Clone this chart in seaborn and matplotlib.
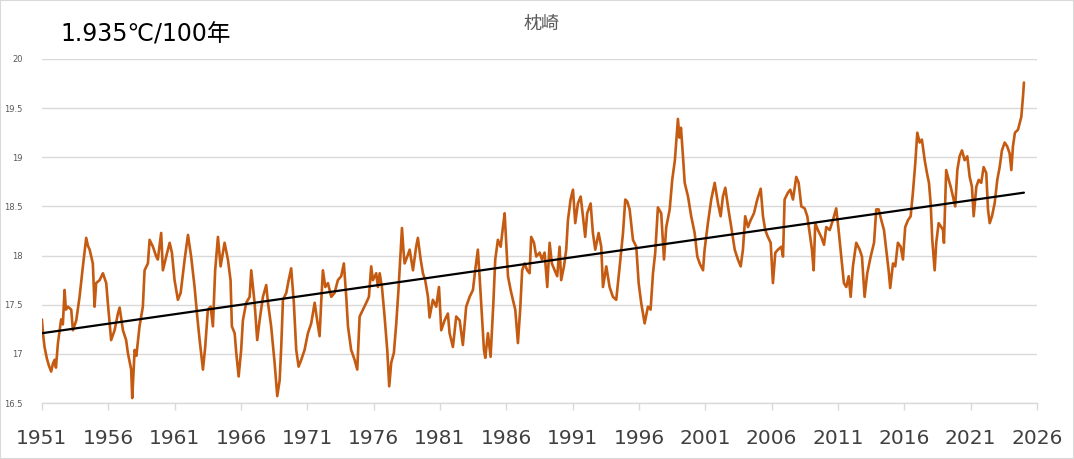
import matplotlib
matplotlib.use("Agg")
import matplotlib.pyplot as plt
import seaborn as sns
import pandas as pd
from matplotlib.patches import Rectangle

# 枕崎 annual running mean temperature
years = [
    1951.00, 1951.08, 1951.20, 1951.38, 1951.53, 1951.70, 1951.83, 1951.96, 1952.06, 1952.21,
    1952.45, 1952.58, 1952.71, 1952.81, 1952.96, 1953.21, 1953.34, 1953.59, 1953.84, 1954.09,
    1954.34, 1954.47, 1954.60, 1954.84, 1954.97, 1955.09, 1955.35, 1955.60, 1955.85, 1955.97,
    1956.22, 1956.48, 1956.73, 1956.86, 1957.11, 1957.35, 1957.48, 1957.73, 1957.81, 1957.99,
    1958.12, 1958.36, 1958.61, 1958.74, 1958.99, 1959.12, 1959.37, 1959.62, 1959.74, 1959.99,
    1960.12, 1960.37, 1960.63, 1960.80, 1961.00, 1961.25, 1961.46, 1961.76, 1962.01, 1962.25,
    1962.51, 1962.71, 1962.89, 1963.14, 1963.31, 1963.51, 1963.72, 1963.89, 1964.06, 1964.27,
    1964.47, 1964.77, 1965.02, 1965.22, 1965.32, 1965.53, 1965.65, 1965.83, 1966.02, 1966.15,
    1966.40, 1966.66, 1966.78, 1967.03, 1967.23, 1967.41, 1967.66, 1967.91, 1968.04, 1968.28,
    1968.54, 1968.74, 1968.92, 1969.04, 1969.17, 1969.42, 1969.60, 1969.79, 1969.99, 1970.17,
    1970.35, 1970.55, 1970.80, 1971.05, 1971.30, 1971.56, 1971.75, 1971.93, 1972.05, 1972.18,
    1972.36, 1972.56, 1972.81, 1973.06, 1973.31, 1973.56, 1973.76, 1973.94, 1974.07, 1974.31,
    1974.57, 1974.77, 1974.95, 1975.20, 1975.45, 1975.65, 1975.82, 1975.95, 1976.20, 1976.33,
    1976.46, 1976.63, 1976.83, 1977.03, 1977.18, 1977.33, 1977.53, 1977.71, 1977.89, 1978.04,
    1978.14, 1978.25, 1978.34, 1978.54, 1978.72, 1978.97, 1979.21, 1979.34, 1979.55, 1979.72,
    1979.89, 1980.10, 1980.22, 1980.47, 1980.72, 1980.93, 1981.10, 1981.35, 1981.60, 1981.73,
    1981.98, 1982.23, 1982.49, 1982.73, 1982.98, 1983.24, 1983.49, 1983.66, 1983.86, 1983.99,
    1984.11, 1984.32, 1984.42, 1984.62, 1984.82, 1984.92, 1985.03, 1985.17, 1985.37, 1985.58,
    1985.75, 1985.88, 1986.00, 1986.13, 1986.33, 1986.50, 1986.68, 1986.88, 1987.05, 1987.20,
    1987.38, 1987.58, 1987.76, 1987.88, 1988.09, 1988.26, 1988.52, 1988.69, 1988.89, 1989.01,
    1989.09, 1989.27, 1989.44, 1989.65, 1989.84, 1990.02, 1990.14, 1990.35, 1990.52, 1990.65,
    1990.85, 1991.03, 1991.20, 1991.40, 1991.61, 1991.78, 1991.95, 1992.10, 1992.36, 1992.53,
    1992.71, 1992.96, 1993.16, 1993.29, 1993.54, 1993.79, 1994.04, 1994.29, 1994.55, 1994.80,
    1994.97, 1995.12, 1995.30, 1995.55, 1995.80, 1995.98, 1996.17, 1996.43, 1996.68, 1996.88,
    1997.06, 1997.23, 1997.43, 1997.68, 1997.89, 1998.06, 1998.32, 1998.51, 1998.71, 1998.94,
    1999.05, 1999.17, 1999.32, 1999.45, 1999.70, 1999.94, 2000.20, 2000.40, 2000.58, 2000.83,
    2000.95, 2001.20, 2001.45, 2001.71, 2001.96, 2002.16, 2002.33, 2002.51, 2002.71, 2002.96,
    2003.22, 2003.46, 2003.67, 2003.84, 2004.01, 2004.22, 2004.42, 2004.67, 2004.92, 2005.18,
    2005.35, 2005.52, 2005.72, 2005.93, 2006.10, 2006.28, 2006.48, 2006.73, 2006.86, 2006.98,
    2007.23, 2007.41, 2007.61, 2007.86, 2008.04, 2008.24, 2008.49, 2008.69, 2008.87, 2009.04,
    2009.17, 2009.29, 2009.49, 2009.74, 2009.95, 2010.12, 2010.38, 2010.62, 2010.87, 2011.05,
    2011.25, 2011.45, 2011.63, 2011.81, 2011.96, 2012.13, 2012.38, 2012.64, 2012.81, 2013.01,
    2013.21, 2013.47, 2013.72, 2013.89, 2014.07, 2014.27, 2014.47, 2014.64, 2014.82, 2014.94,
    2015.15, 2015.32, 2015.52, 2015.73, 2015.90, 2016.07, 2016.28, 2016.48, 2016.65, 2016.83,
    2016.98, 2017.16, 2017.33, 2017.54, 2017.71, 2017.86, 2017.99, 2018.11, 2018.29, 2018.41,
    2018.59, 2018.79, 2018.92, 2018.99, 2019.16, 2019.35, 2019.50, 2019.67, 2019.84, 2020.00,
    2020.17, 2020.35, 2020.55, 2020.75, 2020.93, 2021.10, 2021.23, 2021.43, 2021.61, 2021.80,
    2021.98, 2022.18, 2022.31, 2022.44, 2022.61, 2022.81, 2023.01, 2023.19, 2023.36, 2023.57,
    2023.76, 2023.94, 2024.07, 2024.19, 2024.34, 2024.57, 2024.70, 2024.82, 2024.95, 2025.02,
]
temps = [
    17.35, 17.21, 17.07, 16.95, 16.88, 16.82, 16.90, 16.94, 16.86, 17.11,
    17.35, 17.30, 17.65, 17.45, 17.48, 17.45, 17.24, 17.34, 17.58, 17.89,
    18.18, 18.10, 18.06, 17.92, 17.48, 17.72, 17.75, 17.82, 17.72, 17.52,
    17.14, 17.24, 17.41, 17.47, 17.24, 17.14, 17.01, 16.84, 16.55, 17.04,
    16.98, 17.28, 17.48, 17.85, 17.92, 18.16, 18.09, 17.99, 17.96, 18.23,
    17.85, 17.99, 18.13, 18.03, 17.75, 17.55, 17.62, 17.96, 18.21, 17.99,
    17.68, 17.38, 17.14, 16.84, 17.07, 17.45, 17.48, 17.28, 17.85, 18.19,
    17.89, 18.13, 17.96, 17.75, 17.28, 17.21, 17.01, 16.77, 17.04, 17.34,
    17.52, 17.58, 17.85, 17.52, 17.14, 17.34, 17.58, 17.70, 17.52, 17.28,
    16.91, 16.57, 16.73, 17.07, 17.55, 17.62, 17.75, 17.87, 17.52, 17.04,
    16.87, 16.94, 17.04, 17.21, 17.31, 17.52, 17.34, 17.18, 17.52, 17.85,
    17.68, 17.72, 17.58, 17.62, 17.75, 17.79, 17.92, 17.58, 17.28, 17.04,
    16.94, 16.84, 17.38, 17.45, 17.52, 17.58, 17.89, 17.75, 17.82, 17.68,
    17.82, 17.68, 17.38, 17.04, 16.67, 16.91, 17.01, 17.31, 17.68, 18.03,
    18.28, 18.06, 17.92, 17.99, 18.06, 17.85, 18.09, 18.18, 17.96, 17.82,
    17.75, 17.58, 17.37, 17.55, 17.48, 17.68, 17.24, 17.34, 17.41, 17.21,
    17.07, 17.38, 17.34, 17.09, 17.48, 17.58, 17.65, 17.85, 18.06, 17.79,
    17.52, 17.04, 16.96, 17.21, 16.97, 17.24, 17.52, 17.96, 18.16, 18.09,
    18.29, 18.43, 18.13, 17.79, 17.65, 17.55, 17.45, 17.11, 17.45, 17.85,
    17.92, 17.85, 17.82, 18.19, 18.13, 17.99, 18.03, 17.96, 18.03, 17.82,
    17.68, 18.13, 17.92, 17.85, 17.79, 18.09, 17.75, 17.89, 18.06, 18.36,
    18.57, 18.67, 18.33, 18.53, 18.60, 18.40, 18.19, 18.43, 18.53, 18.23,
    18.06, 18.23, 18.09, 17.68, 17.89, 17.68, 17.58, 17.55, 17.89, 18.23,
    18.57, 18.55, 18.47, 18.16, 18.09, 17.72, 17.52, 17.31, 17.48, 17.45,
    17.82, 18.03, 18.49, 18.43, 17.96, 18.29, 18.47, 18.77, 18.97, 19.39,
    19.20, 19.30, 19.01, 18.74, 18.60, 18.40, 18.23, 17.99, 17.92, 17.85,
    18.06, 18.33, 18.57, 18.74, 18.53, 18.40, 18.60, 18.69, 18.50, 18.29,
    18.06, 17.96, 17.89, 18.06, 18.40, 18.29, 18.36, 18.43, 18.57, 18.68,
    18.40, 18.26, 18.19, 18.13, 17.72, 18.03, 18.06, 18.09, 17.99, 18.57,
    18.64, 18.67, 18.57, 18.80, 18.74, 18.50, 18.48, 18.40, 18.23, 18.06,
    17.85, 18.33, 18.26, 18.19, 18.11, 18.29, 18.26, 18.36, 18.48, 18.26,
    17.99, 17.72, 17.68, 17.79, 17.58, 17.89, 18.13, 18.06, 17.99, 17.58,
    17.82, 17.99, 18.13, 18.47, 18.47, 18.36, 18.26, 18.06, 17.85, 17.67,
    17.92, 17.89, 18.13, 18.09, 17.96, 18.29, 18.36, 18.40, 18.64, 18.94,
    19.25, 19.15, 19.18, 18.97, 18.84, 18.74, 18.53, 18.16, 17.85, 18.13,
    18.33, 18.29, 18.26, 18.13, 18.87, 18.77, 18.70, 18.60, 18.50, 18.87,
    19.01, 19.07, 18.97, 19.01, 18.80, 18.70, 18.40, 18.70, 18.77, 18.74,
    18.90, 18.84, 18.47, 18.33, 18.40, 18.53, 18.77, 18.90, 19.07, 19.15,
    19.11, 19.04, 18.87, 19.11, 19.25, 19.28, 19.35, 19.41, 19.62, 19.76,
]

# linear trend as drawn in the chart
trend_years = [1951.0, 2025.02]
trend_temps = [17.21, 18.64]

xticks = [1951, 1956, 1961, 1966, 1971, 1976, 1981, 1986, 1991, 1996, 2001, 2006, 2011, 2016, 2021, 2026]
yticks = [16.5, 17, 17.5, 18, 18.5, 19, 19.5, 20]
ytick_labels = ["16.5", "17", "17.5", "18", "18.5", "19", "19.5", "20"]

df = pd.DataFrame({"year": years, "temp": temps})
trend = pd.DataFrame({"year": trend_years, "temp": trend_temps})

sns.set_theme(style="white")
plt.rcParams["font.family"] = ["DejaVu Sans", "Noto Sans CJK JP"]

fig, ax = plt.subplots(figsize=(10.74, 4.59), dpi=100)
fig.subplots_adjust(left=0.039, right=0.9655, bottom=0.122, top=0.8715)

sns.lineplot(data=df, x="year", y="temp", color="#C55A11", lw=1.9, ax=ax, sort=False)
sns.lineplot(data=trend, x="year", y="temp", color="black", lw=1.6, ax=ax)

ax.set_xlim(1951, 2026)
ax.set_ylim(16.5, 20)
ax.set_xticks(xticks)
ax.set_xticklabels([str(t) for t in xticks], fontsize=14.5, color="#404040")
ax.set_yticks(yticks)
ax.set_yticklabels(ytick_labels, fontsize=6, color="#595959")
ax.set_xlabel("")
ax.set_ylabel("")

ax.grid(axis="y", color="#D9D9D9", lw=1)
ax.set_axisbelow(True)
for s in ["top", "left", "right"]:
    ax.spines[s].set_visible(False)
ax.spines["bottom"].set_color("#D9D9D9")
ax.spines["bottom"].set_linewidth(1)
ax.tick_params(axis="x", bottom=True, length=5, width=1, color="#D9D9D9", pad=14)
ax.tick_params(axis="y", left=False, pad=8)

fig.text(0.504, 0.948, "枕崎", ha="center", va="center", fontsize=13, color="#595959")
fig.text(0.056, 0.924, "1.935℃/100年", ha="left", va="center", fontsize=17, color="black")

fig.add_artist(Rectangle((0, 0), 1, 1, transform=fig.transFigure, fill=False,
                         edgecolor="#D9D9D9", lw=1.5))

fig.savefig("out.png", dpi=100)
